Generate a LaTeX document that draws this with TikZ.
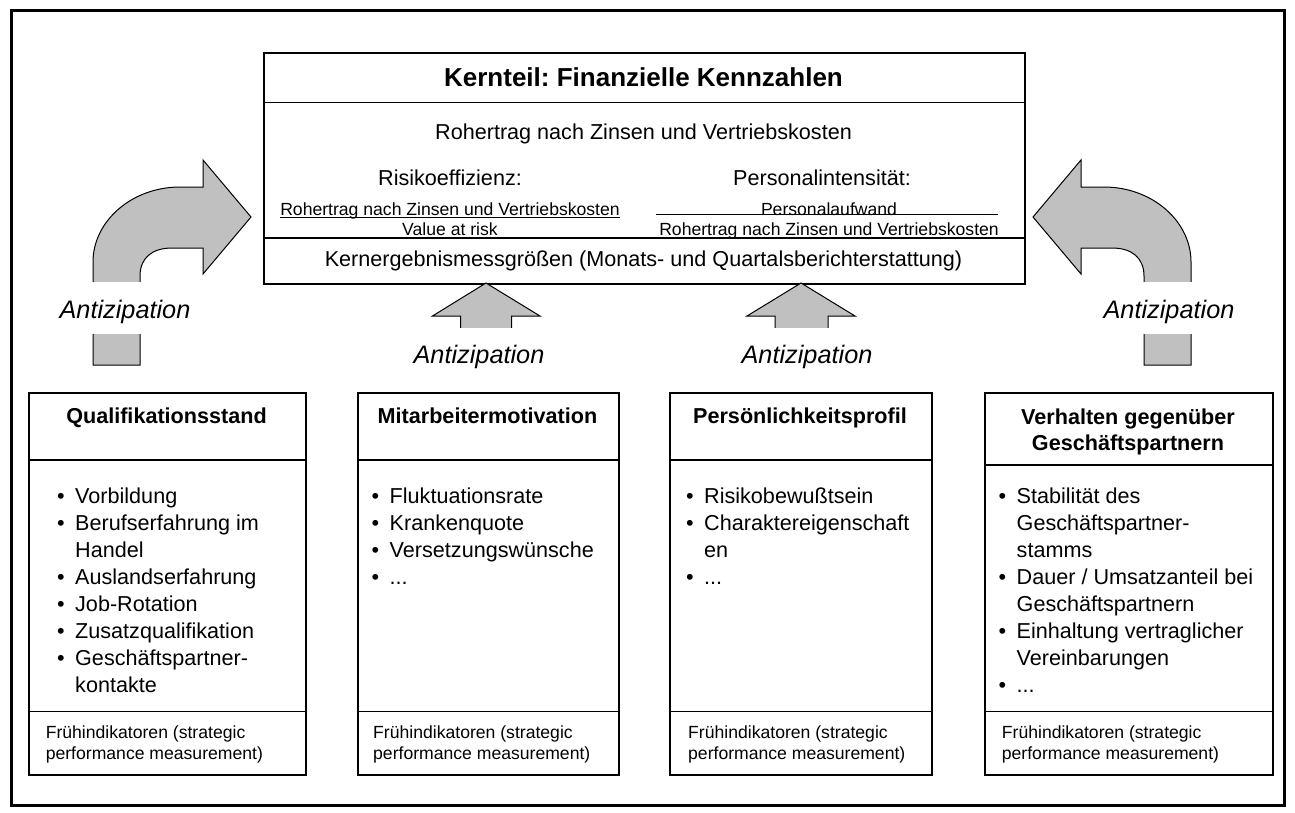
\documentclass[tikz,border=0pt]{standalone}
\usepackage{tikz}
\usepackage{fontspec}
\setmainfont{Liberation Sans}
\frenchspacing
\definecolor{arrowgray}{HTML}{C0C0C0}
\newcommand\fmain{\fontsize{21.6}{27}\selectfont}
\newcommand\fsmall{\fontsize{17.6}{21.5}\selectfont}
\newcommand\ftitle{\fontsize{26}{31}\selectfont\bfseries}
\newcommand\fhead{\fontsize{21.6}{27}\selectfont\bfseries}
\newcommand\fant{\fontsize{25.3}{30}\selectfont\itshape}
\newcommand\itm[1]{\makebox[18pt][l]{•}#1}
\newcommand\cnt[1]{\hspace*{18pt}#1}
\begin{document}
\begin{tikzpicture}[x=1pt,y=-1pt,
  outerframe/.style={line width=3pt},
  boxline/.style={draw, line width=1.7pt, inner sep=0pt, anchor=north west},
  divider/.style={line width=1.5pt},
  garrow/.style={fill=arrowgray, draw=black, line width=1pt, line join=miter},
  txt/.style={inner sep=0pt, font=\fmain},
  small/.style={inner sep=0pt, font=\fsmall},
  head/.style={inner sep=0pt, font=\fhead, anchor=base},
  listtxt/.style={inner sep=0pt, font=\fmain, anchor=base west},
  foot/.style={inner sep=0pt, font=\fsmall, anchor=base west},
  ant/.style={fill=white, inner sep=0pt, font=\fant, anchor=base, minimum width=150pt},
  fracbar/.style={line width=1pt}]
\useasboundingbox (0,0) rectangle (1295,812);
\draw[outerframe] (11,10) rectangle (1284,805);

% ---- top box ----
\node[boxline, minimum width=761pt, minimum height=231pt] (kt) at (263,52) {};
\draw[divider] (263,102.5) -- (1024,102.5);
\draw[divider] (263,238) -- (1024,238);
\node[inner sep=0pt, font=\ftitle, anchor=base] (title) at (643.5,86) {Kernteil: Finanzielle Kennzahlen};
\node[txt, anchor=base] (roh) at (643.5,139) {Rohertrag nach Zinsen und Vertriebskosten};
\node[txt, anchor=base] (risk) at (450,185) {Risikoeffizienz:};
\node[small, anchor=base] (rnum) at (450,215) {Rohertrag nach Zinsen und Vertriebskosten};
\draw[fracbar] ([yshift=-2.5pt]rnum.base west) -- ([yshift=-2.5pt]rnum.base east);
\node[small, anchor=base] (rden) at (450,235.5) {Value at risk};
\node[txt, anchor=base] (pers) at (822,185) {Personalintensität:};
\node[small, anchor=base] (pnum) at (829,215) {Personalaufwand};
\node[small, anchor=base] (pden) at (829,235.5) {Rohertrag nach Zinsen und Vertriebskosten};
\draw[fracbar] (656,214) -- (998,214);
\node[txt, anchor=base] (kern) at (643.5,266) {Kernergebnismessgrößen (Monats- und Quartalsberichterstattung)};

% ---- arrows ----
\draw[garrow] (93,365) -- (93,262) .. controls (93,221) and (132,187) .. (180,187) -- (203,187) -- (203,160) -- (251,217) -- (203,274) -- (203,248) -- (172,248) .. controls (152,248) and (140,258) .. (140,276) -- (140,365) -- cycle;
\draw[garrow] (1191,365) -- (1191,262) .. controls (1191,221) and (1152,187) .. (1104,187) -- (1081,187) -- (1081,160) -- (1033,217) -- (1081,274) -- (1081,248) -- (1112,248) .. controls (1132,248) and (1144,258) .. (1144,276) -- (1144,365) -- cycle;
\draw[garrow] (486,283) -- (540,316) -- (511.5,316) -- (511.5,372) -- (460.5,372) -- (460.5,316) -- (432.5,316) -- cycle;
\draw[garrow] (801,283) -- (855,316) -- (828,316) -- (828,372) -- (775,372) -- (775,316) -- (747,316) -- cycle;

\node[ant, text height=36.5pt, text depth=15pt] (a1) at (125,318.5) {Antizipation};
\node[ant, text height=36.5pt, text depth=15pt] (a4) at (1169,318.5) {Antizipation};
\node[ant, text height=35.5pt, text depth=13pt] (a2) at (479,363) {Antizipation};
\node[ant, text height=35.5pt, text depth=13pt] (a3) at (807,363) {Antizipation};

% ---- bottom boxes ----
\node[boxline, minimum width=277pt, minimum height=382pt] (b1) at (28,392) {};
\node[boxline, minimum width=261pt, minimum height=382pt] (b2) at (357,392) {};
\node[boxline, minimum width=262pt, minimum height=382pt] (b3) at (669,392) {};
\node[boxline, minimum width=288pt, minimum height=382pt] (b4) at (984,392) {};
\draw[divider] (28,460) -- (305,460);
\draw[divider] (357,460) -- (618,460);
\draw[divider] (669,460) -- (931,460);
\draw[divider] (984,465) -- (1272,465);
\draw[divider] (28,711.5) -- (305,711.5);
\draw[divider] (357,711.5) -- (618,711.5);
\draw[divider] (669,711.5) -- (931,711.5);
\draw[divider] (984,711.5) -- (1272,711.5);

\node[head] (h1) at (166.5,423.5) {Qualifikationsstand};
\node[head] (h2) at (487.5,423.5) {Mitarbeitermotivation};
\node[head] (h3) at (800,423.5) {Persönlichkeitsprofil};
\node[head] (h4) at (1128,424) {\begin{tabular}[t]{@{}c@{}}Verhalten gegenüber\\[-0.4pt]Geschäftspartnern\end{tabular}};

\node[listtxt] (l1) at (57,503.5) {\begin{tabular}[t]{@{}l@{}}\itm{Vorbildung}\\\itm{Berufserfahrung im}\\\cnt{Handel}\\\itm{Auslandserfahrung}\\\itm{Job-Rotation}\\\itm{Zusatzqualifikation}\\\itm{Geschäftspartner-}\\\cnt{kontakte}\end{tabular}};
\node[listtxt] (l2) at (371.5,503.5) {\begin{tabular}[t]{@{}l@{}}\itm{Fluktuationsrate}\\\itm{Krankenquote}\\\itm{Versetzungswünsche}\\\itm{...}\end{tabular}};
\node[listtxt] (l3) at (686,503.5) {\begin{tabular}[t]{@{}l@{}}\itm{Risikobewußtsein}\\\itm{Charaktereigenschaft}\\\cnt{en}\\\itm{...}\end{tabular}};
\node[listtxt] (l4) at (998.5,503.5) {\begin{tabular}[t]{@{}l@{}}\itm{Stabilität des}\\\cnt{Geschäftspartner-}\\\cnt{stamms}\\\itm{Dauer / Umsatzanteil bei}\\\cnt{Geschäftspartnern}\\\itm{Einhaltung vertraglicher}\\\cnt{Vereinbarungen}\\\itm{...}\end{tabular}};

\node[foot] (f1) at (45.6,738) {\begin{tabular}[t]{@{}l@{}}Frühindikatoren (strategic\\performance measurement)\end{tabular}};
\node[foot] (f2) at (373,738) {\begin{tabular}[t]{@{}l@{}}Frühindikatoren (strategic\\performance measurement)\end{tabular}};
\node[foot] (f3) at (688,738) {\begin{tabular}[t]{@{}l@{}}Frühindikatoren (strategic\\performance measurement)\end{tabular}};
\node[foot] (f4) at (1001.7,738) {\begin{tabular}[t]{@{}l@{}}Frühindikatoren (strategic\\performance measurement)\end{tabular}};
\end{tikzpicture}
\end{document}
